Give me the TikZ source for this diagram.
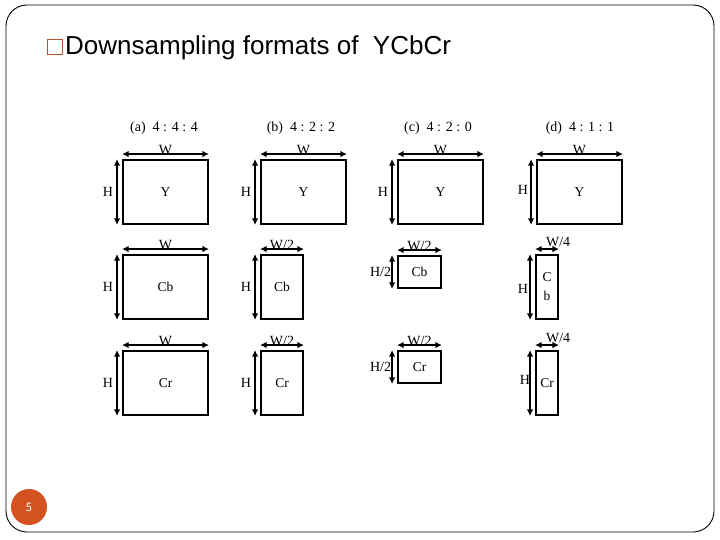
\documentclass[tikz,border=0pt]{standalone}
\usepackage{fontspec}
\setmainfont{Liberation Serif}
\newfontfamily\titlefont{Liberation Sans}
\newfontfamily\numfont{Carlito}
\usetikzlibrary{arrows.meta}
\definecolor{accent}{RGB}{211,82,31}
\definecolor{bulletc}{RGB}{180,85,50}
\tikzset{
 box/.style={draw,line width=1.9pt,inner sep=0pt,font=\fontsize{13.5}{19}\selectfont},
 dim/.style={line width=2.1pt,{Latex[length=6.5pt,width=6.5pt]}-{Latex[length=6.5pt,width=6.5pt]}},
 wl/.style={inner sep=0pt,anchor=south,yshift=-2pt,font=\fontsize{14}{14}\selectfont},
 hl/.style={inner sep=0pt,anchor=east,xshift=-3pt,font=\fontsize{14}{14}\selectfont},
 captxt/.style={inner sep=0pt,font=\fontsize{14}{14}\selectfont},
}
\newcommand\mkdims[3]{%
 \draw[dim] ([yshift=5pt]#1.north west) -- ([yshift=5pt]#1.north east) node[wl,midway] (#1w) {#2};
 \draw[dim] ([xshift=-5pt]#1.north west) -- ([xshift=-5pt]#1.south west) node[hl,midway] (#1h) {#3};
}
\begin{document}
\begin{tikzpicture}[x=1pt,y=-1pt]
\useasboundingbox (0,0) rectangle (720,540);
% slide frame
\draw[line width=0.9pt,rounded corners=21pt] (6,5) rectangle (714,532);
% title
\node[draw=bulletc,line width=1.3pt,minimum size=15pt,inner sep=0pt] (bul) at (55,47) {};
\node[anchor=base west,inner sep=0pt,font=\titlefont\fontsize{26}{26}\selectfont] (title) at (65,55) {Downsampling formats of\ \ YCbCr};
% page number
\node[circle,fill=accent,minimum size=36pt,inner sep=0pt,text=white,font=\numfont\fontsize{13}{13}\selectfont] (pg) at (29,507) {5};
% captions
\node[captxt] (ca) at (164,128) {(a)\ \ 4 : 4 : 4};
\node[captxt] (cb) at (301,128) {(b)\ \ 4 : 2 : 2};
\node[captxt] (cc) at (438,128) {(c)\ \ 4 : 2 : 0};
\node[captxt] (cd) at (580,128) {(d)\ \ 4 : 1 : 1};
% row Y
\node[box,minimum width=85pt,minimum height=64pt] (ya) at (165.5,192) {Y};
\node[box,minimum width=85pt,minimum height=64pt] (yb) at (303.5,192) {Y};
\node[box,minimum width=85pt,minimum height=64pt] (yc) at (440.5,192) {Y};
\node[box,minimum width=85pt,minimum height=64pt] (yd) at (579.5,192) {Y};
\mkdims{ya}{W}{H}
\mkdims{yb}{W}{H}
\mkdims{yc}{W}{H}
\draw[dim] ([yshift=5pt]yd.north west) -- ([yshift=5pt]yd.north east) node[wl,midway] (ydw) {W};
\draw[dim] ([xshift=-5pt]yd.north west) -- ([xshift=-5pt]yd.south west) node[hl,midway,xshift=1pt,yshift=2pt] (ydh) {H};
% row Cb
\node[box,minimum width=85pt,minimum height=64pt] (ba) at (165.5,287) {Cb};
\node[box,minimum width=42pt,minimum height=64pt] (bb) at (282,287) {Cb};
\node[box,minimum width=43pt,minimum height=32pt] (bc) at (419.5,272) {Cb};
\node[box,minimum width=22pt,minimum height=64pt,align=center] (bd) at (547,287) {C\\b};
\mkdims{ba}{W}{H}
\mkdims{bb}{W/2}{H}
\draw[dim] ([yshift=5pt]bc.north west) -- ([yshift=5pt]bc.north east) node[wl,midway] (bcw) {W/2};
\draw[dim] ([xshift=-5pt]bc.north west) -- ([xshift=-5pt]bc.south west) node[hl,midway,xshift=3pt] (bch) {H/2};
\draw[dim] ([yshift=5pt]bd.north west) -- ([yshift=5pt]bd.north east) node[wl,midway,anchor=south west,xshift=-2pt,yshift=3pt] (bdw) {W/4};
\draw[dim] ([xshift=-5pt]bd.north west) -- ([xshift=-5pt]bd.south west) node[hl,midway,xshift=2pt,yshift=-2pt] (bdh) {H};
% row Cr
\node[box,minimum width=85pt,minimum height=64pt] (ra) at (165.5,383) {Cr};
\node[box,minimum width=42pt,minimum height=64pt] (rb) at (282,383) {Cr};
\node[box,minimum width=43pt,minimum height=32pt] (rc) at (419.5,367) {Cr};
\node[box,minimum width=22pt,minimum height=64pt] (rd) at (547,383) {Cr};
\mkdims{ra}{W}{H}
\mkdims{rb}{W/2}{H}
\draw[dim] ([yshift=5pt]rc.north west) -- ([yshift=5pt]rc.north east) node[wl,midway] (rcw) {W/2};
\draw[dim] ([xshift=-5pt]rc.north west) -- ([xshift=-5pt]rc.south west) node[hl,midway,xshift=3pt] (rch) {H/2};
\draw[dim] ([yshift=5pt]rd.north west) -- ([yshift=5pt]rd.north east) node[wl,midway,anchor=south west,xshift=-2pt,yshift=3pt] (rdw) {W/4};
\draw[dim] ([xshift=-5pt]rd.north west) -- ([xshift=-5pt]rd.south west) node[hl,midway,xshift=4pt,yshift=3pt] (rdh) {H};
\end{tikzpicture}
\end{document}
